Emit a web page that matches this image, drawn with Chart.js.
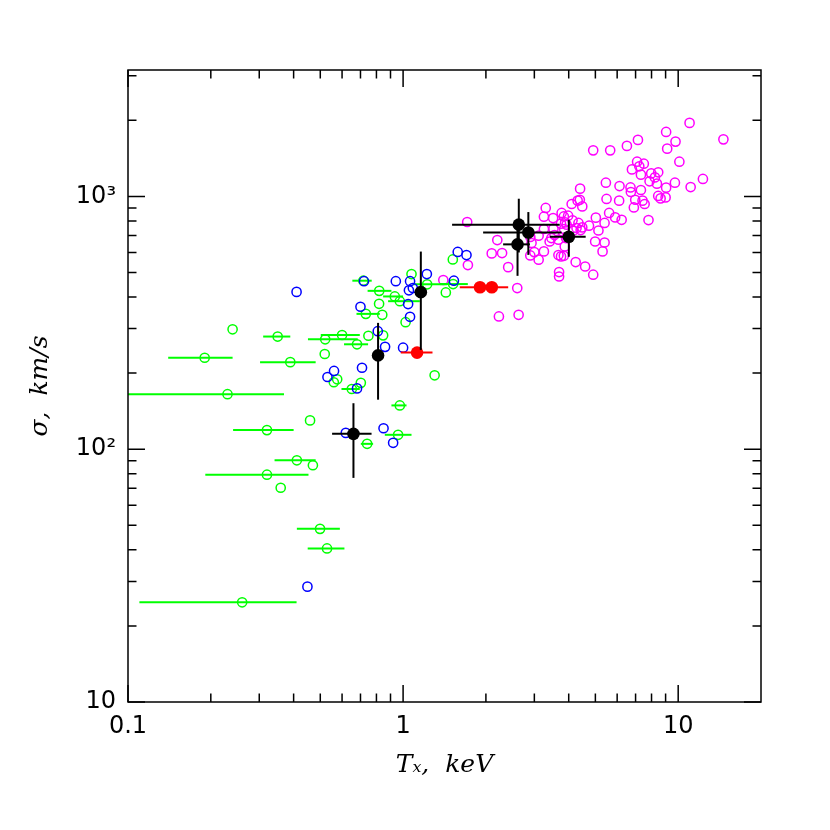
<!DOCTYPE html>
<html><head><meta charset="utf-8">
<script src="https://cdn.jsdelivr.net/npm/chart.js@4/dist/chart.umd.min.js"></script>
<style>html,body{margin:0;padding:0;background:#fff}</style>
</head><body>
<canvas id="c" width="830" height="830" style="width:830px;height:830px;display:block"></canvas>
<script>
// ---------- tick definitions ----------
const xMajorValues = [0.1, 1, 10];
const xMajorLabels = ["0.1", "1", "10"];
const xMinorValues = [0.2,0.3,0.4,0.5,0.6,0.7,0.8,0.9,2,3,4,5,6,7,8,9];
const yMajorValues = [10, 100, 1000];
const yMajorLabels = ["10", "10\u00B2", "10\u00B3"];
const yMinorValues = [20,30,40,50,60,70,80,90,200,300,400,500,600,700,800,900,2000,3000];

// ---------- magenta (open circles) ----------
const magentaT = [11.0,14.6,9.04,9.78,9.12,7.14,6.51,5.66,4.91,10.1,7.09,7.50,7.22,6.79,7.32,7.98,8.46,8.23,7.87,8.37,
  12.3,9.73,11.1,9.04,8.46,8.63,9.00,7.32,6.71,6.73,6.12,5.46,5.49,6.10,6.98,7.42,7.55,6.90,7.80,4.40,
  4.31,4.39,4.48,4.10,5.61,5.90,6.23,5.40,5.02,4.74,5.13,4.99,5.40,5.31,4.59,4.91,4.24,3.30,3.25,3.51,
  3.77,3.84,3.98,4.13,4.34,4.27,4.15,4.42,3.88,3.75,3.52,3.85,3.46,3.67,3.41,3.87,3.91,3.25,3.00,2.90,
  3.11,3.67,3.75,3.84,3.69,3.69,3.11,2.90,2.93,2.29,2.10,2.20,2.41,2.60,2.63,2.23,1.71,1.72,1.40,3.55,
  3.93,3.25,4.48];
const magentaSigma = [1953,1681,1799,1647,1545,1673,1584,1521,1521,1372,1372,1347,1315,1279,1219,1233,1245,1189,1147,1123,
  1172,1133,1089,1083,1004,982,991,1060,1085,1041,1099,1133,977,962,970,962,933,904,806,1073,
  962,970,913,933,860,826,808,785,824,766,733,663,657,606,528,490,550,900,831,821,
  860,833,839,804,785,750,731,736,789,780,745,743,684,674,663,634,684,606,602,584,
  562,586,579,582,502,482,699,691,654,597,595,672,525,434,340,335,792,535,467,703,
  773,743,754];

// ---------- blue (open circles) ----------
const blueT = [0.410,0.449,1.58,1.70,1.22,1.53,0.941,1.06,0.721,1.05,1.085,1.043,1.06,0.700,0.809,0.860,1.00,0.709,0.561,0.531,0.680,0.619,0.849,0.920];
const blueSigma = [419,28.6,603,586,493,464,462,462,462,425,434,375,334,366,293,254,252,210,204,193,174,116,121,106];

// ---------- green (open circles, horizontal error bars) ----------
const greenT = [0.240,0.350,0.190,0.389,0.230,0.459,0.320,0.411,0.470,0.320,0.359,0.499,0.529,0.260,0.521,0.600,0.680,0.748,0.846,0.519,
  0.576,0.560,0.702,0.651,0.973,0.959,0.740,1.302,0.717,0.819,1.073,0.933,0.973,0.818,0.732,0.840,1.021,1.223,1.430,1.516,1.52];
const greenSigma = [298,279,230,221,165,130,119,90.4,86.4,79.3,70.4,48.4,40.5,24.8,272,283,260,281,282,238,
  189,184,183,173,149,114,105,196,464,423,493,402,385,376,343,340,318,449,417,563,450];
const greenTLo = [null,0.310,0.140,0.302,0.100,null,0.241,0.341,null,0.191,null,0.411,0.450,0.110,0.451,0.502,0.610,null,null,null,
  null,null,null,0.597,0.907,0.858,0.702,null,0.654,0.743,null,0.846,0.882,null,0.677,null,null,1.085,null,null,1.36];
const greenTHi = [null,0.389,0.240,0.481,0.369,null,0.400,0.481,null,0.453,null,0.589,0.612,0.410,0.684,0.696,0.746,null,null,null,
  null,null,null,0.696,1.029,1.073,0.778,null,0.769,0.907,null,1.0,1.15,null,0.823,null,null,1.442,null,null,1.719];

// ---------- red (filled, horizontal error bars) ----------
const redT = [1.124, 1.904, 2.101];
const redSigma = [241, 437, 437];
const redTLo = [0.981, 1.607, 1.95];
const redTHi = [1.279, 2.00, 2.41];

// ---------- black (filled, both error bars) ----------
const blackT = [0.660, 0.811, 1.160, 2.634, 2.853, 4.004, 2.606];
const blackSigma = [115, 235, 418, 773, 720, 692, 646];
const blackTLo = [0.552, null, 1.103, 1.507, 1.954, 3.42, 2.31];
const blackTHi = [0.768, null, 1.216, 3.71, 3.77, 4.61, 2.89];
const blackSigmaLo = [77, 157, 247, 600, 587, 577, 485];
const blackSigmaHi = [152, 316, 605, 979, 867, 808, 773];

function pts(xs, ys){ return xs.map((x,i)=>({x:x, y:ys[i]})); }

const errorBarPlugin = {
  id: 'errbars',
  beforeDatasetDraw(chart, args){
    const ds = chart.data.datasets[args.index];
    const eb = ds.errorBars; if(!eb) return;
    const xs = chart.scales.x, ys = chart.scales.y, ctx = chart.ctx, ca = chart.chartArea;
    ctx.save();
    ctx.beginPath(); ctx.rect(ca.left, ca.top, ca.right-ca.left, ca.bottom-ca.top); ctx.clip();
    ctx.strokeStyle = eb.color; ctx.lineWidth = eb.width; ctx.lineCap = 'butt';
    ds.data.forEach((p,i)=>{
      const px = xs.getPixelForValue(p.x), py = ys.getPixelForValue(p.y);
      if (eb.xLo && eb.xLo[i] != null) {
        ctx.beginPath();
        ctx.moveTo(xs.getPixelForValue(eb.xLo[i]), py);
        ctx.lineTo(xs.getPixelForValue(eb.xHi[i]), py);
        ctx.stroke();
      }
      if (eb.yLo && eb.yLo[i] != null) {
        ctx.beginPath();
        ctx.moveTo(px, ys.getPixelForValue(eb.yLo[i]));
        ctx.lineTo(px, ys.getPixelForValue(eb.yHi[i]));
        ctx.stroke();
      }
    });
    ctx.restore();
  }
};

const framePlugin = {
  id: 'frame',
  afterDraw(chart){
    const xs = chart.scales.x, ys = chart.scales.y, ctx = chart.ctx, ca = chart.chartArea;
    const MAJ = 17, MIN = 8.5;
    ctx.save();
    ctx.strokeStyle = '#000'; ctx.lineWidth = 1.5;
    ctx.strokeRect(ca.left, ca.top, ca.right-ca.left, ca.bottom-ca.top);
    ctx.beginPath();
    const xt = (v,len)=>{ const p = xs.getPixelForValue(v);
      ctx.moveTo(p, ca.bottom); ctx.lineTo(p, ca.bottom-len);
      ctx.moveTo(p, ca.top); ctx.lineTo(p, ca.top+len); };
    const yt = (v,len)=>{ const p = ys.getPixelForValue(v);
      ctx.moveTo(ca.left, p); ctx.lineTo(ca.left+len, p);
      ctx.moveTo(ca.right, p); ctx.lineTo(ca.right-len, p); };
    xMajorValues.forEach(v=>xt(v,MAJ)); xMinorValues.forEach(v=>xt(v,MIN));
    yMajorValues.forEach(v=>yt(v,MAJ)); yMinorValues.forEach(v=>yt(v,MIN));
    ctx.stroke();
    ctx.restore();
  }
};

const openPt = (c)=>({pointRadius:4.6, pointBorderWidth:1.5, pointBorderColor:c, pointBackgroundColor:'rgba(0,0,0,0)', showLine:false});
const fillPt = (c)=>({pointRadius:6.3, pointBorderWidth:0, pointBorderColor:c, pointBackgroundColor:c, showLine:false});

new Chart(document.getElementById('c'), {
  type: 'scatter',
  data: { datasets: [
    Object.assign({label:'magenta', data: pts(magentaT, magentaSigma), order:4}, openPt('#ff00ff')),
    Object.assign({label:'green', data: pts(greenT, greenSigma), order:3,
      errorBars:{color:'#00ff00', width:2, xLo:greenTLo, xHi:greenTHi}}, openPt('#00ff00')),
    Object.assign({label:'blue', data: pts(blueT, blueSigma), order:2}, openPt('#0000ff')),
    Object.assign({label:'red', data: pts(redT, redSigma), order:1,
      errorBars:{color:'#ff0000', width:2, xLo:redTLo, xHi:redTHi}}, fillPt('#ff0000')),
    Object.assign({label:'black', data: pts(blackT, blackSigma), order:0,
      errorBars:{color:'#000000', width:2, xLo:blackTLo, xHi:blackTHi, yLo:blackSigmaLo, yHi:blackSigmaHi}}, fillPt('#000000'))
  ]},
  options: {
    responsive:false, animation:false, devicePixelRatio:1, events:[],
    layout:{padding:{top:70, right:69, bottom:0, left:0}},
    plugins:{legend:{display:false}, tooltip:{enabled:false}},
    scales:{
      x:{
        type:'logarithmic', min:0.1, max:20, position:'bottom',
        grid:{display:false, drawTicks:false}, border:{display:false},
        afterBuildTicks:(s)=>{ s.ticks = xMajorValues.map(v=>({value:v})); },
        afterFit:(s)=>{ s.height = 128; },
        ticks:{autoSkip:false, maxRotation:0, padding:10, color:'#000',
          font:{family:'DejaVu Sans', size:24},
          callback:(v,i)=>xMajorLabels[i]},
        title:{display:true, text:'T\u2093,  keV', color:'#000',
          font:{family:'DejaVu Serif', size:25, style:'italic'}, padding:{top:0, bottom:50}}
      },
      y:{
        type:'logarithmic', min:10, max:3162, position:'left',
        grid:{display:false, drawTicks:false}, border:{display:false},
        afterBuildTicks:(s)=>{ s.ticks = yMajorValues.map(v=>({value:v})); },
        afterFit:(s)=>{ s.width = 128; },
        ticks:{autoSkip:false, padding:12, color:'#000',
          font:{family:'DejaVu Sans', size:24},
          callback:(v,i)=>yMajorLabels[i]},
        title:{display:true, text:'\u03C3,  km/s', color:'#000',
          font:{family:'DejaVu Serif', size:25, style:'italic'}, padding:{top:25, bottom:0}}
      }
    }
  },
  plugins:[errorBarPlugin, framePlugin]
});
</script>
</body></html>
